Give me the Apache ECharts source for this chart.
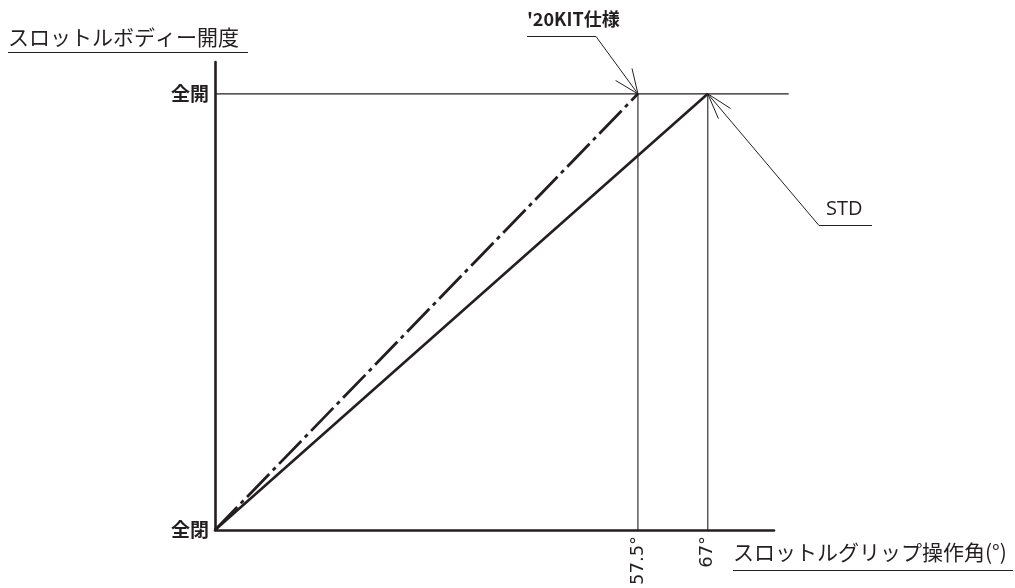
<!DOCTYPE html>
<html>
<head>
<meta charset="utf-8">
<script src="https://cdn.jsdelivr.net/npm/echarts@6/dist/echarts.min.js"></script>
<style>
html,body{margin:0;padding:0;background:#fff;}
#chart{width:1015px;height:588px;}
</style>
</head>
<body>
<div id="chart"></div>
<script>
// ---- data ----
const seriesNames = ['STD', "'20KIT仕様"];
const fullOpenAngles = [67, 57.5];          // grip angle (°) at full throttle
const openingRange = [0, 100];              // throttle body opening: closed -> full open
const yTickValues = [0, 100];
const yTickLabels = ['全閉', '全開'];
const xTickValues = [57.5, 67];
const xAxisName = 'スロットルグリップ操作角(°)';
const yAxisName = 'スロットルボディー開度';
const xAxisMax = 76;
const yAxisMax = 107.3;
const refLineEnd = 78;                      // full-open reference line extends past axis

const INK = '#231f20';
const chart = echarts.init(document.getElementById('chart'));

const series = [
  {
    name: 'guide57', type: 'line', symbol: 'none', silent: true, z: 1,
    data: [[fullOpenAngles[1], openingRange[0]], [fullOpenAngles[1], openingRange[1]]],
    lineStyle: { color: INK, width: 1.1 }
  },
  {
    name: 'guide67', type: 'line', symbol: 'none', silent: true, z: 1,
    data: [[fullOpenAngles[0], openingRange[0]], [fullOpenAngles[0], openingRange[1]]],
    lineStyle: { color: INK, width: 1.1 }
  },
  {
    name: seriesNames[0], type: 'line', symbol: 'none', z: 3,
    data: [[0, openingRange[0]], [fullOpenAngles[0], openingRange[1]]],
    lineStyle: { color: INK, width: 2.6 }
  },
  {
    name: seriesNames[1], type: 'line', symbol: 'none', z: 3,
    data: [[0, openingRange[0]], [fullOpenAngles[1], openingRange[1]]],
    lineStyle: { color: INK, width: 2.8, type: [32, 5, 4, 5], cap: 'butt' }
  }
];

chart.setOption({
  animation: false,
  backgroundColor: '#fff',
  grid: { left: 215, right: 241, top: 62, bottom: 55, containLabel: false },
  xAxis: {
    type: 'value', min: 0, max: xAxisMax,
    axisLine: { show: true, onZero: false, lineStyle: { color: INK, width: 2.6 } },
    axisTick: { show: false },
    splitLine: { show: false },
    axisLabel: {
      customValues: xTickValues,
      rotate: 90, margin: 6,
      formatter: v => v + '°',
      color: INK, fontSize: 18, fontFamily: '"DejaVu Sans", sans-serif'
    }
  },
  yAxis: {
    type: 'value', min: 0, max: yAxisMax,
    axisLine: { show: true, onZero: false, lineStyle: { color: INK, width: 2.6 } },
    axisTick: { show: false },
    splitLine: { show: false },
    axisLabel: {
      customValues: yTickValues,
      margin: 6,
      formatter: v => yTickLabels[yTickValues.indexOf(v)] || '',
      color: INK, fontSize: 19, fontWeight: 'bold',
      fontFamily: '"Noto Sans CJK JP", sans-serif',
      padding: [0, 0, 6, 0]
    }
  },
  series: series
});

// annotations (axis names + callouts)
function leader(tip, pts, headAngleDeg, headLen) {
  const prev = pts[pts.length - 1];
  const ang = Math.atan2(prev[1] - tip[1], prev[0] - tip[0]);
  const a = headAngleDeg * Math.PI / 180;
  const h1 = [tip[0] + headLen * Math.cos(ang + a), tip[1] + headLen * Math.sin(ang + a)];
  const h2 = [tip[0] + headLen * Math.cos(ang - a), tip[1] + headLen * Math.sin(ang - a)];
  return [
    { type: 'polyline', shape: { points: pts.concat([tip]) }, style: { stroke: INK, lineWidth: 1, fill: null }, z: 10 },
    { type: 'polyline', shape: { points: [h1, tip, h2] }, style: { stroke: INK, lineWidth: 1, fill: null }, z: 10 }
  ];
}

const tipKit = chart.convertToPixel({ gridIndex: 0 }, [fullOpenAngles[1], openingRange[1]]);
const tipStd = chart.convertToPixel({ gridIndex: 0 }, [fullOpenAngles[0], openingRange[1]]);
const refStart = chart.convertToPixel({ gridIndex: 0 }, [0, openingRange[1]]);
const refEnd = chart.convertToPixel({ gridIndex: 0 }, [refLineEnd, openingRange[1]]);

const graphics = [
  { type: 'line', shape: { x1: refStart[0], y1: refStart[1], x2: refEnd[0], y2: refEnd[1] },
    style: { stroke: INK, lineWidth: 1.1 }, z: 1 },
  { type: 'text', left: 8, top: 27, z: 10,
    style: { text: yAxisName, fill: INK, font: '21px "Noto Sans CJK JP", sans-serif' } },
  { type: 'line', shape: { x1: 8, y1: 52.5, x2: 248, y2: 52.5 }, style: { stroke: INK, lineWidth: 1.2 }, z: 10 },
  { type: 'text', left: 733, top: 542, z: 10,
    style: { text: xAxisName, fill: INK, font: '21px "Noto Sans CJK JP", sans-serif' } },
  { type: 'line', shape: { x1: 733, y1: 570.5, x2: 1013, y2: 570.5 }, style: { stroke: INK, lineWidth: 1.2 }, z: 10 },
  { type: 'text', left: 527, top: 10, z: 10,
    style: { text: seriesNames[1], fill: INK, font: 'bold 18px "Noto Sans CJK JP", sans-serif' } },
  { type: 'text', left: 826, top: 199, z: 10,
    style: { text: seriesNames[0], fill: INK, font: '20px "Open Sans", sans-serif' } }
].concat(
  leader(tipKit, [[527, 36.5], [596, 36.5]], 23, 26),
  leader(tipStd, [[872, 225.5], [819, 225.5]], 17, 27)
);

chart.setOption({ graphic: graphics });
</script>
</body>
</html>
